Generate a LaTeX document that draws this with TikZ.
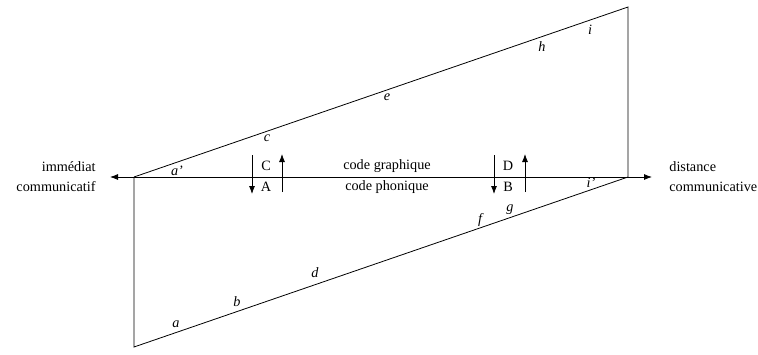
\documentclass[tikz,border=0pt]{standalone}
\usepackage{fontspec}
\setmainfont{Liberation Serif}
\usetikzlibrary{arrows.meta}
\begin{document}
\begin{tikzpicture}[x=1bp,y=-1bp, line width=0.8bp,
  lbl/.style={font=\fontsize{14.3}{20}\selectfont, inner sep=0},
  it/.style={font=\fontsize{14.3}{20}\selectfont\itshape, inner sep=0},
  tip/.style={-{Latex[length=8bp,width=6bp]}}]
\useasboundingbox (0,0) rectangle (758,354);
% main vertices
\coordinate (L) at (134,177);
\coordinate (R) at (628,177);
\coordinate (T) at (628,7);
\coordinate (Bt) at (134,347);
\coordinate (LE) at (110,177);
\coordinate (RE) at (652,177);
\draw (L) -- (T) -- (R);
\draw (R) -- (Bt) -- (L);
\draw (L) -- (R);
\draw[tip] (L) -- (LE);
\draw[tip] (R) -- (RE);
% vertical arrows
\coordinate (c1s) at (252,155); \coordinate (c1e) at (252,194);
\coordinate (c2s) at (282,192); \coordinate (c2e) at (282,154);
\coordinate (d1s) at (494,155); \coordinate (d1e) at (494,194);
\coordinate (d2s) at (525,192); \coordinate (d2e) at (525,154);
\draw[tip] (c1s) -- (c1e);
\draw[tip] (c2s) -- (c2e);
\draw[tip] (d1s) -- (d1e);
\draw[tip] (d2s) -- (d2e);
% labels on axis
\node[lbl] (C) at (266,166) {C};
\node[lbl] (A) at (266,187) {A};
\node[lbl] (D) at (508,166) {D};
\node[lbl] (B) at (508,187) {B};
\node[lbl] (cg) at (387,166) {code graphique};
\node[lbl] (cp) at (387,187) {code phonique};
\node[lbl, align=right, anchor=east] (im) at (96,177) {immédiat\\communicatif};
\node[lbl, align=left, anchor=west] (di) at (669,177) {distance\\communicative};
% italic letters
\node[it] (ap) at (177,171) {a’};
\node[it] (c) at (267,138) {c};
\node[it] (e) at (387,97) {e};
\node[it] (h) at (542,47) {h};
\node[it] (i) at (590,30) {i};
\node[it] (ip) at (591,183) {i’};
\node[it] (g) at (510,210) {g};
\node[it] (f) at (480,220) {f};
\node[it] (d) at (315,273) {d};
\node[it] (b) at (237,302) {b};
\node[it] (a) at (176,324) {a};
\end{tikzpicture}
\end{document}
